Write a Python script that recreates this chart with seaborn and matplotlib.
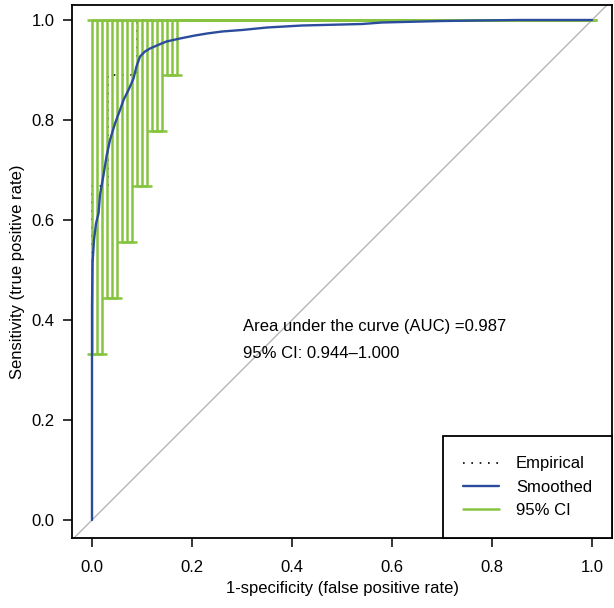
import numpy as np
import seaborn as sns
import matplotlib.pyplot as plt
from matplotlib.lines import Line2D

# smoothed ROC curve
smooth_fpr = [0.0, 0.0, 0.001, 0.004, 0.008, 0.013, 0.016, 0.023, 0.029, 0.036, 0.046,
              0.056, 0.063, 0.073, 0.083, 0.089, 0.096, 0.106, 0.116, 0.132, 0.149,
              0.176, 0.206, 0.23, 0.26, 0.30, 0.35, 0.42, 0.54, 0.58, 0.70, 0.85, 1.0]
smooth_tpr = [0.0, 0.427, 0.513, 0.56, 0.593, 0.613, 0.65, 0.69, 0.727, 0.76, 0.793,
              0.82, 0.84, 0.86, 0.883, 0.907, 0.927, 0.937, 0.943, 0.95, 0.957,
              0.963, 0.969, 0.973, 0.977, 0.980, 0.985, 0.989, 0.992, 0.995, 0.998, 1.0, 1.0]

# empirical ROC (steps)
emp_fpr = [0.0, 0.0, 0.032, 0.032, 0.089, 0.089, 1.0]
emp_tpr = [0.0, 0.667, 0.667, 0.889, 0.889, 1.0, 1.0]

# 95% CI of sensitivity at each specificity step (0.01 grid of 1-specificity)
ci_fpr = np.arange(101) / 100
ci_low = [0.333] * 3 + [0.444] * 3 + [0.556] * 3 + [0.667] * 3 + [0.778] * 3 + [0.889] * 3 + [1.0] * 83
ci_high = [1.0] * 101

auc_text = "Area under the curve (AUC) =0.987"
ci_text = "95% CI: 0.944\u20131.000"

sns.set_style("ticks")
plt.rcParams['font.family'] = ['Liberation Sans', 'DejaVu Sans']
plt.rcParams['text.color'] = 'black'
plt.rcParams['axes.labelcolor'] = 'black'
plt.rcParams['xtick.color'] = 'black'
plt.rcParams['ytick.color'] = 'black'

green = '#86c440'
blue = '#2b4c9c'

fig = plt.figure(figsize=(6.14, 6.08), dpi=100)
ax = fig.add_axes([72 / 614, 1 - 538 / 608, 540 / 614, 533 / 608])

# chance diagonal
ax.plot([-0.1, 1.1], [-0.1, 1.1], color='#b5b5b5', lw=1.0, zorder=1)

# empirical curve
sns.lineplot(x=emp_fpr, y=emp_tpr, sort=False, estimator=None, ax=ax,
             color='black', lw=1.2, linestyle=(0, (1, 4)), zorder=2)

# CI bars with caps
cap = 0.01
ax.vlines(ci_fpr, ci_low, ci_high, color=green, lw=1.8, zorder=3)
ax.hlines(ci_low, ci_fpr - cap, ci_fpr + cap, color=green, lw=1.8, zorder=3)
ax.hlines(ci_high, ci_fpr - cap, ci_fpr + cap, color=green, lw=1.8, zorder=3)

# smoothed curve
sns.lineplot(x=smooth_fpr, y=smooth_tpr, sort=False, estimator=None, ax=ax,
             color=blue, lw=1.7, zorder=4)

ax.text(0.302, 0.386, auc_text, va='center', ha='left', fontsize=12)
ax.text(0.302, 0.332, ci_text, va='center', ha='left', fontsize=12)

ax.set_xlim(-0.04, 1.04)
ax.set_ylim(-0.036, 1.03)
ticks = [0.0, 0.2, 0.4, 0.6, 0.8, 1.0]
ax.set_xticks(ticks)
ax.set_yticks(ticks)
ax.set_xticklabels([f"{t:.1f}" for t in ticks])
ax.set_yticklabels([f"{t:.1f}" for t in ticks])
ax.tick_params(direction='out', length=6.5, width=1.1, labelsize=12, pad=6, color='black')
ax.tick_params(axis='x', pad=9)
ax.set_xlabel("1-specificity (false positive rate)", fontsize=12, labelpad=5)
ax.set_ylabel("Sensitivity (true positive rate)", fontsize=12, labelpad=5)
for sp in ax.spines.values():
    sp.set_color('black')
    sp.set_linewidth(1.3)

handles = [Line2D([], [], color='black', lw=1.2, linestyle=(0, (1, 4))),
           Line2D([], [], color=blue, lw=1.7),
           Line2D([], [], color=green, lw=1.8)]
leg = ax.legend(handles, ["Empirical", "Smoothed", "95% CI"], loc='lower right',
                fontsize=12, frameon=True, fancybox=False, framealpha=1,
                edgecolor='black', borderaxespad=0, borderpad=1.2,
                handlelength=2.2, handletextpad=1.0, labelspacing=0.5)
leg.get_frame().set_linewidth(1.3)
leg.set_zorder(5)

fig.savefig("out.png", dpi=100)
